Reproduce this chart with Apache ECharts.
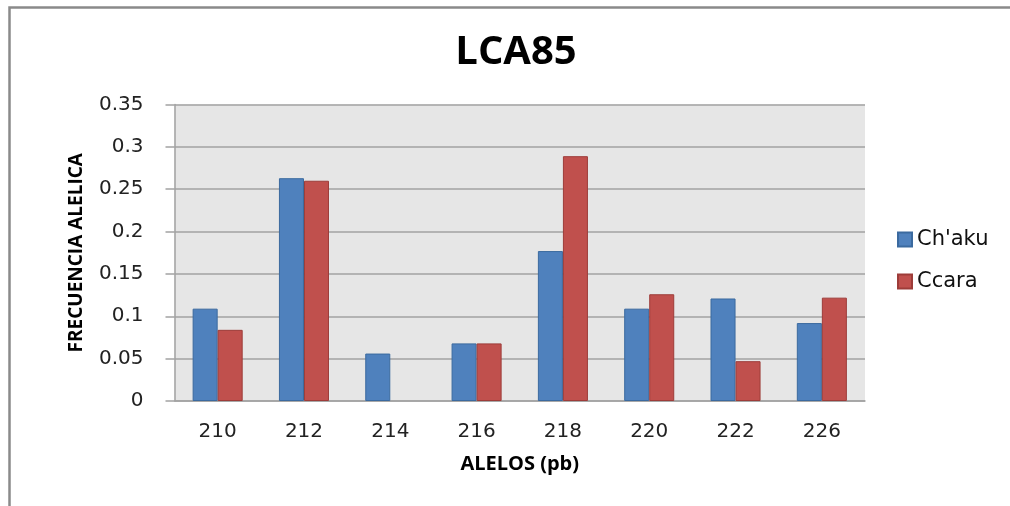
<!DOCTYPE html>
<html>
<head>
<meta charset="utf-8">
<script src="https://cdn.jsdelivr.net/npm/echarts@6/dist/echarts.min.js"></script>
<style>
  html, body { margin: 0; padding: 0; background: #ffffff; }
  #chart { width: 1010px; height: 506px; }
</style>
</head>
<body>
<div id="chart"></div>
<script>
// Allele sizes (bp) and allele frequencies per population
const alleles = ['210', '212', '214', '216', '218', '220', '222', '226'];
const chaku = [0.109, 0.263, 0.056, 0.068, 0.177, 0.109, 0.121, 0.092];
const ccara = [0.084, 0.260, 0, 0.068, 0.289, 0.126, 0.047, 0.122];
const yTicks = [0, 0.05, 0.1, 0.15, 0.2, 0.25, 0.3, 0.35];

const labelFont = '"DejaVu Sans", sans-serif';
const boldFont = '"Open Sans", "DejaVu Sans", sans-serif';
const gridColor = '#a2a2a2';

// zero-height bars get no outline so nothing is drawn for them
function barData(values) {
  return values.map(function (v) {
    return v === 0 ? { value: v, itemStyle: { borderWidth: 0 } } : v;
  });
}

const chart = echarts.init(document.getElementById('chart'), null, { renderer: 'canvas' });

chart.setOption({
  animation: false,
  backgroundColor: '#ffffff',
  title: {
    text: 'LCA85',
    left: 516,
    top: 33,
    padding: 0,
    textAlign: 'center',
    textStyle: { fontFamily: boldFont, fontWeight: 'bold', fontSize: 40, color: '#000000' }
  },
  legend: {
    orient: 'vertical',
    left: 897,
    top: 229,
    padding: 0,
    itemWidth: 14,
    itemHeight: 14,
    itemGap: 21,
    icon: 'rect',
    textStyle: { fontFamily: labelFont, fontSize: 21, color: '#111111', lineHeight: 20 },
    data: ["Ch'aku", 'Ccara']
  },
  grid: { left: 174.5, right: 145, top: 104.5, bottom: 105, backgroundColor: '#e6e6e6', show: true, borderWidth: 0 },
  xAxis: {
    type: 'category',
    data: alleles,
    name: 'ALELOS (pb)',
    nameLocation: 'middle',
    nameGap: 53,
    nameTextStyle: { fontFamily: boldFont, fontWeight: 'bold', fontSize: 20, color: '#000000' },
    axisLine: { show: true, lineStyle: { color: gridColor, width: 1.5 } },
    axisTick: { show: false },
    axisLabel: { margin: 21, fontFamily: labelFont, fontSize: 20, color: '#222222' },
    splitLine: { show: false }
  },
  yAxis: {
    type: 'value',
    min: 0,
    max: 0.35,
    interval: 0.05,
    name: 'FRECUENCIA ALELICA',
    nameLocation: 'middle',
    nameGap: 88,
    nameTextStyle: { fontFamily: boldFont, fontWeight: 'bold', fontSize: 19, color: '#000000' },
    axisLine: { show: true, lineStyle: { color: gridColor, width: 1.5 } },
    axisTick: { show: true, inside: false, length: 9, lineStyle: { color: gridColor, width: 1.5 } },
    axisLabel: {
      margin: 31,
      fontFamily: labelFont,
      fontSize: 20,
      color: '#222222',
      formatter: function (v) {
        const t = yTicks.find(function (k) { return Math.abs(k - v) < 1e-9; });
        return String(t !== undefined ? t : v);
      }
    },
    splitLine: { show: true, lineStyle: { color: gridColor, width: 1.5 } }
  },
  series: [
    {
      name: "Ch'aku",
      type: 'bar',
      data: barData(chaku),
      barGap: '0%',
      barCategoryGap: '42%',
      itemStyle: { color: '#4f81bd', borderColor: '#3b6a9f', borderWidth: 1 }
    },
    {
      name: 'Ccara',
      type: 'bar',
      data: barData(ccara),
      barGap: '0%',
      barCategoryGap: '42%',
      itemStyle: { color: '#c0504d', borderColor: '#9d3c39', borderWidth: 1 }
    }
  ],
  graphic: [
    {
      // outer chart frame: only its top and left edges fall inside the view
      type: 'polyline',
      silent: true,
      shape: { points: [[9.5, 520], [9.5, 7.5], [1030, 7.5]] },
      style: { fill: 'none', stroke: '#8a8a8a', lineWidth: 2.5 }
    }
  ]
});
</script>
</body>
</html>
